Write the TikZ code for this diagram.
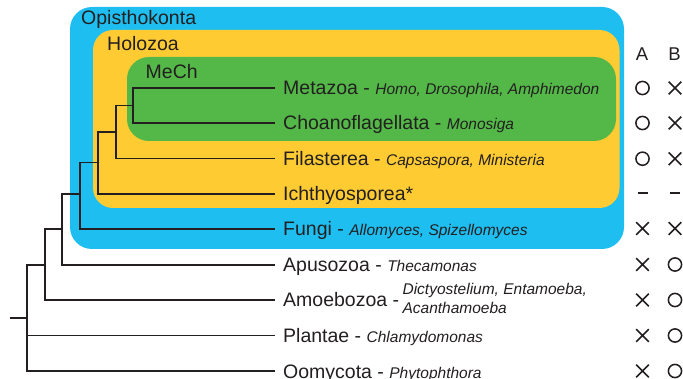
\documentclass[tikz,border=0pt]{standalone}
\usepackage{fontspec}
\setmainfont{Liberation Sans}
\definecolor{opiblue}{RGB}{30,190,240}
\definecolor{holoyel}{RGB}{254,203,51}
\definecolor{mechgrn}{RGB}{83,184,72}
\definecolor{ink}{RGB}{35,31,32}
\newcommand{\spc}[1]{{\fontsize{15.5}{18}\selectfont\itshape #1}}
\begin{document}
\begin{tikzpicture}[x=1pt,y=-1pt,
  every node/.style={text=ink},
  leaf/.style={anchor=west,inner sep=3pt,font=\fontsize{19.5}{22}\selectfont,text height=16pt,text depth=2pt},
  grp/.style={anchor=west,inner sep=0pt,font=\fontsize{19.5}{22}\selectfont,text height=16pt,text depth=2pt},
  hdr/.style={inner sep=0pt,font=\fontsize{18.5}{22}\selectfont,text height=13.3pt,text depth=0pt},
  branch/.style={draw=ink,line width=1.6pt},
  markline/.style={draw=ink,line width=1.5pt},
  yes/.pic={\draw[markline] (0,0) circle (6.6);},
  no/.pic={\draw[markline] (-6.3,-6.3) -- (6.3,6.3) (-6.3,6.3) -- (6.3,-6.3);},
  na/.pic={\draw[markline] (-5,0) -- (5,0);}
]
\useasboundingbox (0,0) rectangle (683,379);
% group boxes
\fill[opiblue,rounded corners=22pt] (70,7) rectangle (624,249);
\fill[holoyel,rounded corners=20pt] (93,30) rectangle (619.5,208);
\fill[mechgrn,rounded corners=22pt] (127,57) rectangle (616,141);
\node[grp] (opi) at (81,18) {Opisthokonta};
\node[grp] (holo) at (107,43.7) {Holozoa};
\node[grp] (mech) at (145.5,72) {MeCh};
% leaves
\node[leaf] (met) at (280,88) {Metazoa - \spc{Homo, Drosophila, Amphimedon}};
\node[leaf] (cho) at (280,123) {Choanoflagellata - \spc{Monosiga}};
\node[leaf] (fil) at (280,158.7) {Filasterea - \spc{Capsaspora, Ministeria}};
\node[leaf] (ich) at (280,194) {Ichthyosporea*};
\node[leaf] (fun) at (280,229) {Fungi - \spc{Allomyces, Spizellomyces}};
\node[leaf] (apu) at (280,265) {Apusozoa - \spc{Thecamonas}};
\node[leaf] (amo) at (280,300) {Amoebozoa -};
\node[anchor=west,inner sep=0pt,align=left,font=\fontsize{15.5}{19}\selectfont\itshape] (amosp) at ([yshift=1.5pt]amo.east) {Dictyostelium, Entamoeba,\\Acanthamoeba};
\node[leaf] (pla) at (280,335.7) {Plantae - \spc{Chlamydomonas}};
\node[leaf] (oom) at (280,371) {Oomycota - \spc{Phytophthora}};
% internal nodes
\coordinate (root) at (10,318);
\coordinate (n1) at (27,318);
\coordinate (n2) at (45,265);
\coordinate (n3) at (62,229);
\coordinate (n4) at (80,194);
\coordinate (n5) at (97.7,162.5);
\coordinate (n6) at (115.7,132);
\coordinate (n7) at (133,105.5);
\begin{scope}[branch,shorten >=5pt]
\draw (n7) |- (met.west);
\draw (n7) |- (cho.west);
\draw (n6) |- (fil.west);
\draw (n5) |- (ich.west);
\draw (n4) |- (fun.west);
\draw (n3) |- (apu.west);
\draw (n2) |- (amo.west);
\draw (n1) |- (pla.west);
\draw (n1) |- (oom.west);
\end{scope}
\begin{scope}[branch]
\draw (root) -- (n1);
\draw (n1) |- (n2);
\draw (n2) |- (n3);
\draw (n3) |- (n4);
\draw (n4) |- (n5);
\draw (n5) |- (n6);
\draw (n6) |- (n7);
\end{scope}
% table
\node[hdr] (ha) at (642,53.5) {A};
\node[hdr] (hb) at (674.5,53.5) {B};
\foreach \y/\a/\b in {88/yes/no,123/yes/no,158.7/yes/no,193/na/na,228.5/no/no,264.5/no/yes,300/no/yes,335.5/no/yes,371/no/yes}{
  \pic at (642.5,\y) {\a};
  \pic at (675,\y) {\b};
}
\end{tikzpicture}
\end{document}
